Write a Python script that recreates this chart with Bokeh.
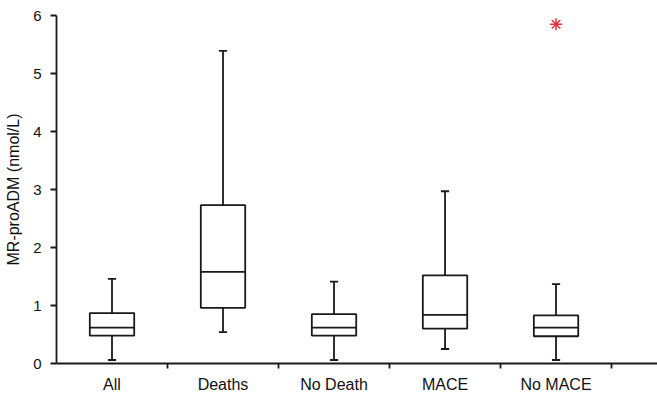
from bokeh.plotting import figure
from bokeh.models import FixedTicker, Range1d, ColumnDataSource
from bokeh.embed import file_html
from bokeh.resources import INLINE

# Data
categories = ["All", "Deaths", "No Death", "MACE", "No MACE"]
whisker_low = [0.06, 0.54, 0.06, 0.25, 0.06]
q1 = [0.48, 0.96, 0.48, 0.60, 0.47]
median = [0.62, 1.58, 0.62, 0.84, 0.62]
q3 = [0.87, 2.73, 0.85, 1.52, 0.83]
whisker_high = [1.46, 5.39, 1.41, 2.97, 1.37]
outlier_cat = ["No MACE"]
outlier_val = [5.85]
y_ticks = [0, 1, 2, 3, 4, 5, 6]

xpos = [i + 0.5 for i in range(len(categories))]
half = 0.2
cap = 0.037

src = ColumnDataSource(dict(
    x=xpos, left=[x - half for x in xpos], right=[x + half for x in xpos],
    capl=[x - cap for x in xpos], capr=[x + cap for x in xpos],
    lo=whisker_low, q1=q1, med=median, q3=q3, hi=whisker_high,
))

p = figure(width=657, height=395, output_backend="svg", toolbar_location=None,
           x_range=Range1d(0, 5.414), y_range=Range1d(0, 6),
           min_border_left=56, min_border_right=0, min_border_top=15, min_border_bottom=31)
p.outline_line_color = None
p.xgrid.visible = False
p.ygrid.visible = False
p.background_fill_color = "white"
p.border_fill_color = "white"

lc = "#1a1a1a"
lw = 1.8
# whiskers
p.segment(x0="x", y0="q3", x1="x", y1="hi", source=src, line_color=lc, line_width=lw)
p.segment(x0="x", y0="lo", x1="x", y1="q1", source=src, line_color=lc, line_width=lw)
p.segment(x0="capl", y0="hi", x1="capr", y1="hi", source=src, line_color=lc, line_width=lw)
p.segment(x0="capl", y0="lo", x1="capr", y1="lo", source=src, line_color=lc, line_width=lw)
# boxes
p.quad(left="left", right="right", bottom="q1", top="q3", source=src,
       fill_color="white", line_color=lc, line_width=lw)
p.segment(x0="left", y0="med", x1="right", y1="med", source=src, line_color=lc, line_width=lw)
# outlier
ox = [xpos[categories.index(c)] for c in outlier_cat]
p.scatter(ox, outlier_val, marker="asterisk", size=12, line_color="#e3303a", line_width=1.5)

font = "Liberation Sans"
# x axis
xa = p.xaxis[0]
xa.ticker = FixedTicker(ticks=xpos, minor_ticks=[1, 2, 3, 4, 5])
xa.major_label_overrides = {x: c for x, c in zip(xpos, categories)}
xa.major_tick_in = 0
xa.major_tick_out = 0
xa.minor_tick_in = 0
xa.minor_tick_out = 5
xa.minor_tick_line_color = lc
xa.minor_tick_line_width = lw
xa.axis_line_color = lc
xa.axis_line_width = lw
xa.major_label_text_font = font
xa.major_label_text_font_size = "16px"
xa.major_label_text_color = "#111111"
xa.major_label_standoff = 7

# y axis
ya = p.yaxis[0]
ya.ticker = FixedTicker(ticks=y_ticks)
ya.major_tick_in = 0
ya.major_tick_out = 6
ya.minor_tick_line_color = None
ya.major_tick_line_color = lc
ya.major_tick_line_width = lw
ya.axis_line_color = lc
ya.axis_line_width = lw
ya.major_label_text_font = font
ya.major_label_text_font_size = "15px"
ya.major_label_text_color = "#111111"
ya.major_label_standoff = 9
ya.axis_label = "MR-proADM (nmol/L)"
ya.axis_label_text_font = font
ya.axis_label_text_font_style = "normal"
ya.axis_label_text_font_size = "16px"
ya.axis_label_text_color = "#111111"
ya.axis_label_standoff = 8

open("out.html", "w").write(file_html(p, INLINE))
